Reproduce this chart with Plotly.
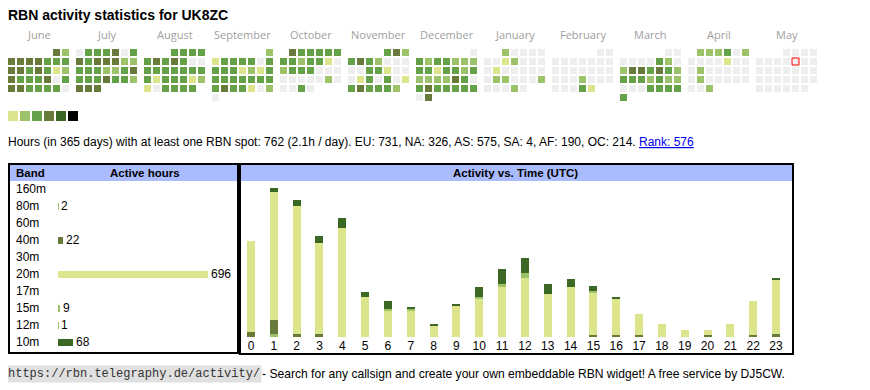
import datetime as dt
import plotly.graph_objects as go

# ---------------- data ----------------
TITLE = "RBN activity statistics for UK8ZC"
months = [(2024, 6), (2024, 7), (2024, 8), (2024, 9), (2024, 10), (2024, 11),
          (2024, 12), (2025, 1), (2025, 2), (2025, 3), (2025, 4), (2025, 5)]
month_names = ["June", "July", "August", "September", "October", "November",
               "December", "January", "February", "March", "April", "May"]

# daily activity level per month (0 = none, 1..5 = colour level)
jun = [4, 2, 4, 4, 4, 4, 3, 3, 3, 4, 4, 3, 4, 3, 1, 2, 4, 3, 3, 3, 4, 0, 3, 4, 4, 3, 3, 3, 3, 0]
jul = [0, 3, 3, 3, 4, 0, 3, 4, 3, 4, 4, 4, 2, 2, 3, 3, 3, 2, 2, 3, 4, 3, 3, 3, 4, 3, 3, 2, 4, 4, 4]
aug = [3, 3, 3, 3, 3, 4, 3, 4, 3, 0, 0, 3, 3, 3, 3, 3, 3, 3, 3, 1, 3, 3, 3, 1, 2, 1, 0, 3, 3, 3, 3]
sep = [2, 1, 3, 3, 3, 3, 0, 3, 3, 3, 3, 1, 2, 1, 3, 3, 3, 3, 3, 3, 3, 3, 3, 4, 3, 3, 1, 0, 2, 0]
oct_ = [4, 3, 3, 3, 3, 3, 3, 3, 2, 3, 3, 1, 0, 2, 3, 3, 3, 0, 0, 0, 0, 0, 0, 0, 0, 2, 0, 0, 0, 3, 0]
nov = [3, 4, 2, 3, 4, 3, 2, 0, 0, 0, 0, 0, 3, 3, 1, 0, 0, 0, 1, 3, 0, 3, 0, 1, 3, 4, 3, 3, 3, 2]
dec = [0, 3, 2, 3, 3, 2, 2, 2, 3, 3, 1, 3, 3, 2, 3, 2, 2, 2, 2, 4, 3, 0, 3, 4, 3, 3, 3, 3, 3, 0, 4]
jan = [2, 0, 0, 0, 0, 0, 0, 1, 2, 0, 0, 0, 0, 1, 0, 0, 0, 0, 0, 0, 2, 2, 0, 0, 0, 2, 0, 0, 0, 2, 0]
feb = [0, 0, 0, 0, 0, 0, 0, 0, 0, 0, 0, 0, 0, 0, 0, 0, 0, 0, 0, 2, 0, 0, 0, 0, 0, 0, 3, 1]
mar = [0, 0, 0, 0, 0, 0, 3, 2, 0, 2, 4, 4, 3, 4, 3, 2, 3, 3, 3, 2, 3, 2, 2, 0, 0, 0, 3, 3, 3, 3, 3]
apr = [2, 2, 2, 3, 0, 2, 0, 0, 0, 0, 1, 0, 0, 0, 2, 0, 0, 0, 0, 0, 0, 2, 0, 0, 0, 0, 0, 0, 0, 2]
may = [0, 0, 0, 0, 0, 0, 0, 0, 0, 0, 0, 0, 0, 0, 0, 0, 0, 0, 0, 0, 0, 0, 0, 0, 0, 0, 0, 0, 0, 0, 0]
daily = [jun, jul, aug, sep, oct_, nov, dec, jan, feb, mar, apr, may]
today = dt.date(2025, 5, 9)

level_colors = ["#eeeeee", "#dce48c", "#9cc26a", "#65a147", "#687a39", "#3c6826", "#000000"]

summary = ("Hours (in 365 days) with at least one RBN spot: 762 (2.1h / day). "
           "EU: 731, NA: 326, AS: 575, SA: 4, AF: 190, OC: 214. ")
rank_text = "Rank: 576"

bands = ["160m", "80m", "60m", "40m", "30m", "20m", "17m", "15m", "12m", "10m"]
band_hours = [0, 2, 0, 22, 0, 696, 0, 9, 1, 68]
band_colors = ["#9cc26a", "#9cc26a", "#9cc26a", "#687a39", "#9cc26a",
               "#dce48c", "#9cc26a", "#9cc26a", "#9cc26a", "#3c6826"]

hours = list(range(24))
act_80m = [0, 2, 0, 0, 0, 0, 0, 0, 0, 0, 0, 0, 0, 0, 0, 0, 0, 0, 0, 0, 0, 0, 0, 0]
act_40m = [3, 8, 2, 2, 0, 0, 0, 0, 0, 0, 0, 0, 0, 0, 0, 1, 1, 1, 0, 0, 1, 0, 1, 2]
act_20m = [55, 78, 77, 55, 66, 24, 16, 16, 7, 19, 23, 30, 36, 26, 30, 26, 22, 13, 8, 4, 3, 8, 21, 33]
act_15m = [0, 0, 0, 0, 0, 0, 1, 1, 0, 0, 1, 2, 3, 0, 0, 1, 0, 0, 0, 0, 0, 0, 0, 0]
act_10m = [0, 2, 4, 4, 6, 3, 5, 1, 1, 1, 6, 9, 9, 6, 5, 3, 1, 0, 0, 0, 0, 0, 0, 1]
activity = [("80m", act_80m, "#9cc26a"), ("40m", act_40m, "#687a39"),
            ("20m", act_20m, "#dce48c"), ("15m", act_15m, "#9cc26a"),
            ("10m", act_10m, "#3c6826")]

footer_url = "https://rbn.telegraphy.de/activity/"
footer_text = "- Search for any callsign and create your own embeddable RBN widget! A free service by DJ5CW."

# ---------------- layout helpers ----------------
# The page body has an 8px margin, so the figure is placed at (8, 8);
# coordinates below are page pixels, converted to figure fractions.
OFF = 8
W, H = 870 - OFF, 390 - OFF
SANS = "Liberation Sans, Arial, sans-serif"
MONO = "Liberation Mono, Courier New, monospace"
LIGHT = "Open Sans, sans-serif"
TX = -2  # annotation inner padding compensation


def fx(p):
    return (p - OFF) / W


def fy(p):
    return 1 - (p - OFF) / H


CELL = 9.0              # px per calendar cell
MONTH_STEP = 68 / CELL  # month block pitch in cell units
X0, Y0 = 11.5 - OFF, 52.5 - OFF   # figure-pixel centre of first cell

fig = go.Figure()

# ---------------- calendar heat map ----------------
pts = {lvl: ([], []) for lvl in range(len(level_colors))}
today_xy = None
for mi, ((yy, mm), vals) in enumerate(zip(months, daily)):
    first = dt.date(yy, mm, 1).weekday()
    for d, v in enumerate(vals, start=1):
        date = dt.date(yy, mm, d)
        col = date.weekday()
        row = (d - 1 + first) // 7
        xu = mi * MONTH_STEP + col
        pts[v][0].append(xu)
        pts[v][1].append(row)
        if date == today:
            today_xy = (xu, row)

for lvl, (xs, ys) in pts.items():
    if not xs:
        continue
    fig.add_trace(go.Scatter(x=xs, y=ys, mode="markers", xaxis="x", yaxis="y",
                             marker=dict(symbol="square", size=7, color=level_colors[lvl],
                                         line=dict(width=0)),
                             hoverinfo="skip", showlegend=False))
fig.add_trace(go.Scatter(x=[today_xy[0]], y=[today_xy[1]], mode="markers", xaxis="x", yaxis="y",
                         marker=dict(symbol="square-open", size=7, color="#ff0000",
                                     line=dict(width=1, color="#ff0000")),
                         hoverinfo="skip", showlegend=False))

annotations = []
for mi, name in enumerate(month_names):
    annotations.append(dict(x=mi * MONTH_STEP + 3, y=-2.05, xref="x", yref="y",
                            text=name, showarrow=False, xanchor="center", yanchor="middle",
                            font=dict(family=LIGHT, size=11, color="#a0a0a0")))

# ---------------- band table ----------------
fig.add_trace(go.Bar(x=band_hours, y=bands, orientation="h", xaxis="x2", yaxis="y2",
                     marker=dict(color=band_colors, line=dict(width=0)), width=0.41,
                     hoverinfo="skip", showlegend=False))
for b, v in zip(bands, band_hours):
    annotations.append(dict(x=fx(16), y=b, xref="paper", yref="y2", text=b, showarrow=False,
                            xanchor="left", yanchor="middle", xshift=TX,
                            font=dict(family=SANS, size=12, color="#000")))
    if v > 0:
        annotations.append(dict(x=v, y=b, xref="x2", yref="y2", text=str(v), showarrow=False,
                                xanchor="left", yanchor="middle", xshift=1,
                                font=dict(family=SANS, size=12, color="#000")))

# ---------------- activity vs time ----------------
for name, vals, col in activity:
    fig.add_trace(go.Bar(x=hours, y=vals, xaxis="x3", yaxis="y3", name=name,
                         marker=dict(color=col, line=dict(width=0)), width=0.35,
                         hoverinfo="skip", showlegend=False))

# ---------------- texts ----------------
annotations += [
    dict(x=fx(8), y=fy(14.5), xref="paper", yref="paper", text="<b>" + TITLE + "</b>",
         showarrow=False, xanchor="left", yanchor="middle", xshift=TX,
         font=dict(family=SANS, size=14, color="#000")),
    dict(x=fx(8), y=fy(142), xref="paper", yref="paper",
         text=summary + "<span style='color:#0000ee'><u>" + rank_text + "</u></span>",
         showarrow=False, xanchor="left", yanchor="middle", xshift=TX,
         font=dict(family=SANS, size=12, color="#000")),
    dict(x=fx(16), y=fy(173), xref="paper", yref="paper", text="<b>Band</b>",
         showarrow=False, xanchor="left", yanchor="middle", xshift=TX,
         font=dict(family=SANS, size=11.5, color="#000")),
    dict(x=fx(144.5), y=fy(173), xref="paper", yref="paper", text="<b>Active hours</b>",
         showarrow=False, xanchor="center", yanchor="middle",
         font=dict(family=SANS, size=11.5, color="#000")),
    dict(x=fx(516), y=fy(173), xref="paper", yref="paper", text="<b>Activity vs. Time (UTC)</b>",
         showarrow=False, xanchor="center", yanchor="middle",
         font=dict(family=SANS, size=11.5, color="#000")),
    dict(x=fx(8), y=fy(374), xref="paper", yref="paper", text=footer_url,
         showarrow=False, xanchor="left", yanchor="middle", bgcolor="#e0e0e0", borderpad=1,
         xshift=TX, font=dict(family=MONO, size=12, color="#333")),
    dict(x=fx(262), y=fy(374), xref="paper", yref="paper", text=footer_text,
         showarrow=False, xanchor="left", yanchor="middle", xshift=TX,
         font=dict(family=SANS, size=12.1, color="#000")),
]

# ---------------- shapes ----------------
shapes = []
for i, c in enumerate(level_colors[1:]):
    shapes.append(dict(type="rect", xref="paper", yref="paper",
                       x0=fx(8 + 12 * i), x1=fx(18 + 12 * i), y0=fy(121), y1=fy(111),
                       fillcolor=c, line=dict(width=0), layer="below"))
# header fills
shapes.append(dict(type="rect", xref="paper", yref="paper", x0=fx(10), x1=fx(237),
                   y0=fy(181), y1=fy(165), fillcolor="#aabbff", line=dict(width=0), layer="below"))
shapes.append(dict(type="rect", xref="paper", yref="paper", x0=fx(241), x1=fx(792),
                   y0=fy(181), y1=fy(165), fillcolor="#aabbff", line=dict(width=0), layer="below"))
# borders
shapes.append(dict(type="rect", xref="paper", yref="paper", x0=fx(9), x1=fx(238),
                   y0=fy(353), y1=fy(164), line=dict(width=2, color="#000"), fillcolor="rgba(0,0,0,0)"))
shapes.append(dict(type="rect", xref="paper", yref="paper", x0=fx(240), x1=fx(793),
                   y0=fy(354), y1=fy(164), line=dict(width=2, color="#000"), fillcolor="rgba(0,0,0,0)"))

hidden = dict(showgrid=False, zeroline=False, showticklabels=False, ticks="", showline=False,
              fixedrange=True)

BAR_PX = 150 / 696  # px per hour in band table
ACT_PX = 1.652      # px per hour in activity chart
PITCH = (776 - 251) / 23

fig.update_layout(
    width=W, height=H, margin=dict(l=0, r=0, t=0, b=0),
    paper_bgcolor="#ffffff", plot_bgcolor="rgba(0,0,0,0)",
    barmode="stack", showlegend=False,
    xaxis=dict(domain=[0, 1], range=[-X0 / CELL, (W - X0) / CELL], **hidden),
    yaxis=dict(domain=[0, 1], range=[(H - Y0) / CELL, -Y0 / CELL], **hidden),
    xaxis2=dict(domain=[fx(58), fx(58 + 300)], range=[0, 300 / BAR_PX], anchor="y2", **hidden),
    yaxis2=dict(domain=[fy(350.8), fy(180.8)], range=[9.5, -0.5], anchor="x2",
                type="category", categoryorder="array", categoryarray=bands, **hidden),
    xaxis3=dict(domain=[fx(251 - PITCH / 2), fx(776 + PITCH / 2)], range=[-0.5, 23.5],
                anchor="y3", showgrid=False, zeroline=False, showline=False, ticks="",
                tickmode="array", tickvals=hours, ticktext=[str(h) for h in hours],
                tickfont=dict(family=SANS, size=12, color="#000"), fixedrange=True),
    yaxis3=dict(domain=[fy(337), fy(181)], range=[0, (337 - 181) / ACT_PX], anchor="x3", **hidden),
    annotations=annotations, shapes=shapes,
)

fig.write_html("out.html")
